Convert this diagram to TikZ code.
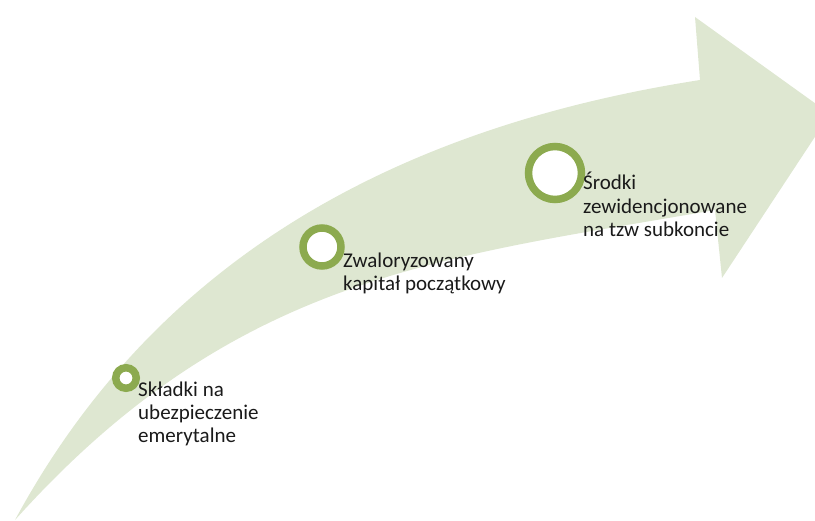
\documentclass[tikz,border=0pt]{standalone}
\usepackage{fontspec}
\setmainfont{Carlito}
\usetikzlibrary{shadows}
\definecolor{bandgreen}{HTML}{DEE7D1}
\definecolor{ringgreen}{HTML}{8CAA4F}
\definecolor{labeltext}{HTML}{1A1A1A}
\tikzset{
  ring/.style={circle, draw=ringgreen, fill=white, line width=7.5pt, inner sep=0pt,
    drop shadow={shadow xshift=1.5pt, shadow yshift=-2.5pt, opacity=0.35, fill=black!70}},
  % multi-line labels are placed by the baseline of their last line
  steplabel/.style={anchor=base west, inner sep=0pt, align=left, text=labeltext,
    font=\fontsize{21}{23.5}\selectfont},
}
\begin{document}
\begin{tikzpicture}[x=1pt, y=-1pt]
  \useasboundingbox (0,0) rectangle (815,521);
  \clip (0,0) rectangle (815,521);
  % rising curved arrow
  \fill[bandgreen] (15,520) .. controls (150,270) and (380,130) .. (700,80)
    -- (695,17) -- (830,114) -- (722,278) -- (715,210)
    .. controls (440,258) and (235,275) .. (15,520) -- cycle;
  % milestones along the arrow
  \node[ring, minimum size=20.5pt] (r1) at (126,378) {};
  \node[ring, minimum size=38pt] (r2) at (322,247) {};
  \node[ring, minimum size=53pt] (r3) at (555,173) {};
  \node[steplabel] (t1) at (138,443) {Składki na\\ubezpieczenie\\emerytalne};
  \node[steplabel] (t2) at (343,291) {Zwaloryzowany\\kapitał początkowy};
  \node[steplabel] (t3) at (583,237) {Środki\\zewidencjonowane\\na tzw subkoncie};
\end{tikzpicture}
\end{document}
